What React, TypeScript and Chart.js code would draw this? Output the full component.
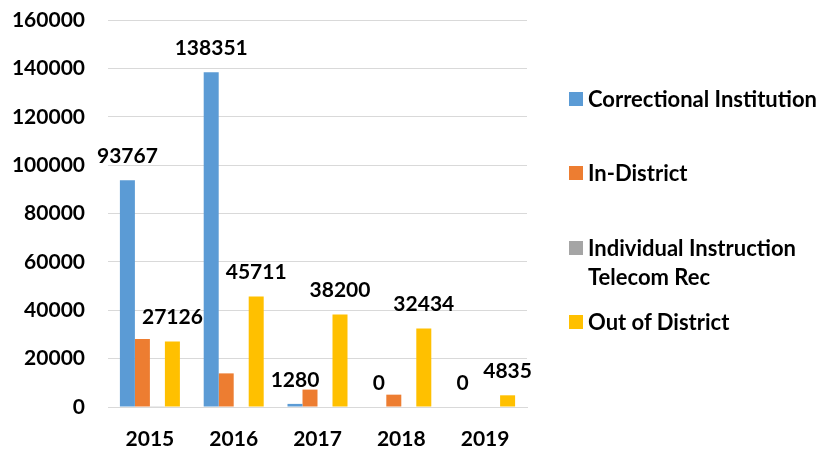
import React, { useEffect, useRef } from "react";
import { Chart, registerables } from "chart.js";

Chart.register(...registerables);

const years = ["2015", "2016", "2017", "2018", "2019"];
const correctional = [93767, 138351, 1280, 0, 0];
const inDistrict = [28100, 13900, 7200, 5100, 0];
const individual = [300, 0, 0, 0, 0];
const outOfDistrict = [27126, 45711, 38200, 32434, 4835];
const yTicks = [0, 20000, 40000, 60000, 80000, 100000, 120000, 140000, 160000];

const seriesNames = [
  "Correctional Institution",
  "In-District",
  "Individual Instruction\nTelecom Rec",
  "Out of District",
];
const colors = ["#5B9BD5", "#ED7D31", "#A5A5A5", "#FFC000"];
const labeledSeries = [0, 3];

const FONT = "Lato, 'Open Sans', sans-serif";

const labelPlugin = {
  id: "valueLabels",
  afterDatasetsDraw(chart: any) {
    const ctx = chart.ctx;
    ctx.save();
    ctx.font = `bold 21px ${FONT}`;
    ctx.fillStyle = "#000";
    ctx.textAlign = "center";
    ctx.textBaseline = "middle";
    labeledSeries.forEach((di) => {
      const meta = chart.getDatasetMeta(di);
      const data = chart.data.datasets[di].data;
      meta.data.forEach((bar: any, i: number) => {
        ctx.fillText(String(data[i]), bar.x, bar.y - 24);
      });
    });
    ctx.restore();
  },
};

export default function App() {
  const ref = useRef<HTMLCanvasElement>(null);
  useEffect(() => {
    if (!ref.current) return;
    const seriesData = [correctional, inDistrict, individual, outOfDistrict];
    const chart = new Chart(ref.current, {
      type: "bar",
      data: {
        labels: years,
        datasets: seriesData.map((d, i) => ({
          label: seriesNames[i],
          data: d,
          backgroundColor: colors[i],
          borderWidth: 0,
          categoryPercentage: 0.716,
          barPercentage: 1,
        })),
      },
      options: {
        animation: false,
        responsive: false,
        maintainAspectRatio: false,
        layout: { padding: { top: 20, right: 296, left: 0, bottom: 0 } },
        plugins: { legend: { display: false }, tooltip: { enabled: false } },
        scales: {
          x: {
            grid: { display: false, drawTicks: false },
            border: { display: true, color: "#D9D9D9", width: 1 },
            ticks: {
              color: "#000",
              font: { family: FONT, size: 21, weight: "bold" },
              padding: 20,
            },
            afterFit: (s: any) => {
              s.height = 45;
              s.paddingLeft = 0;
              s.paddingRight = 0;
            },
          },
          y: {
            min: 0,
            max: 160000,
            afterBuildTicks: (s: any) => {
              s.ticks = yTicks.map((v) => ({ value: v }));
            },
            grid: { color: "#D9D9D9", drawTicks: false, lineWidth: 1 },
            border: { display: false },
            ticks: {
              color: "#000",
              font: { family: FONT, size: 21, weight: "bold" },
              padding: 23,
              callback: (v: any) => String(v),
            },
            afterFit: (s: any) => {
              s.width = 108;
              s.paddingTop = 0;
              s.paddingBottom = 0;
            },
          },
        },
      },
      plugins: [labelPlugin],
    });
    return () => chart.destroy();
  }, []);

  const legendTops = [99, 173, 248, 322];
  return (
    <div style={{ position: "fixed", left: 0, top: 0, width: 823, height: 452, background: "#fff" }}>
      <canvas ref={ref} width={823} height={452} style={{ position: "absolute", left: 0, top: 0 }} />
      {seriesNames.map((n, i) => (
        <div
          key={n}
          style={{
            position: "absolute",
            left: 569,
            top: legendTops[i] - 15,
            fontFamily: FONT,
            fontWeight: "bold",
            fontSize: 22,
            lineHeight: "29px",
            color: "#000",
            whiteSpace: "pre",
            display: "flex",
            alignItems: "flex-start",
          }}
        >
          <span
            style={{
              display: "inline-block",
              width: 14,
              height: 14,
              background: colors[i],
              marginTop: 8,
              marginRight: 5,
              flexShrink: 0,
            }}
          />
          <span>{n}</span>
        </div>
      ))}
    </div>
  );
}
